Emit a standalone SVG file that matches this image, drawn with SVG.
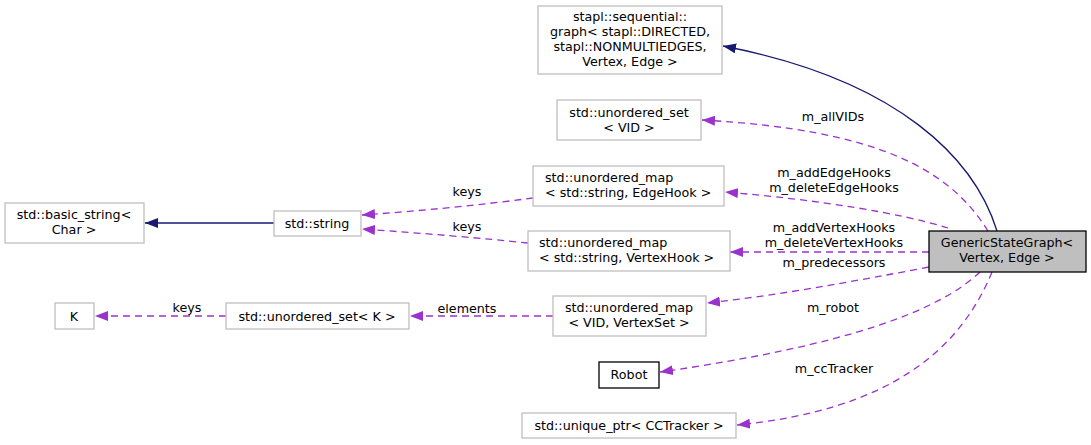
<svg xmlns="http://www.w3.org/2000/svg" width="1091" height="445" viewBox="0 0 1091 445">
<defs>
<style>
text{font-family:"DejaVu Sans",sans-serif;font-size:12.7px;fill:#000}
.n{fill:#fff;stroke:#bfbfbf;stroke-width:1.3}
.b{fill:#fff;stroke:#000;stroke-width:1.3}
.g{fill:#bfbfbf;stroke:#000;stroke-width:1.3}
.inh{fill:none;stroke:#191970;stroke-width:1.3}
.use{fill:none;stroke:#9a32cd;stroke-width:1.3;stroke-dasharray:7,5}
.c{text-anchor:middle}
</style>
<marker id="ab" viewBox="0 0 13 10" refX="13" refY="5" markerWidth="13" markerHeight="10" markerUnits="userSpaceOnUse" orient="auto"><path d="M0,0L13,5L0,10Z" fill="#191970"/></marker>
<marker id="ap" viewBox="0 0 13 10" refX="13" refY="5" markerWidth="13" markerHeight="10" markerUnits="userSpaceOnUse" orient="auto"><path d="M0,0L13,5L0,10Z" fill="#9a32cd"/></marker>
</defs>
<g id="connectors">
<path class="inh" d="M997,231 C975,160 900,80 723,46" marker-end="url(#ab)"/>
<path class="inh" d="M274,223 L145,223" marker-end="url(#ab)"/>
<path class="use" d="M988,231 C950,170 880,130 702,120" marker-end="url(#ap)"/>
<text class="c" x="833" y="121">m_allVIDs</text>
<path class="use" d="M948,228 C900,213 820,200 725,192" marker-end="url(#ap)"/>
<text class="c" x="834" y="177">m_addEdgeHooks</text>
<text class="c" x="834" y="192">m_deleteEdgeHooks</text>
<path class="use" d="M929,252 L730,252" marker-end="url(#ap)"/>
<text class="c" x="834" y="232">m_addVertexHooks</text>
<text class="c" x="834" y="247">m_deleteVertexHooks</text>
<path class="use" d="M929,267 C850,282 780,295 707,303" marker-end="url(#ap)"/>
<text class="c" x="834" y="267">m_predecessors</text>
<path class="use" d="M980,272 C940,310 850,345 660,372" marker-end="url(#ap)"/>
<text class="c" x="833" y="312">m_robot</text>
<path class="use" d="M992,272 C960,350 890,410 737,425" marker-end="url(#ap)"/>
<text class="c" x="834" y="373">m_ccTracker</text>
<path class="use" d="M533,198 C480,205 420,211 362,215" marker-end="url(#ap)"/>
<text class="c" x="467" y="196">keys</text>
<path class="use" d="M528,243 C480,238 420,233 362,229" marker-end="url(#ap)"/>
<text class="c" x="467" y="231">keys</text>
<path class="use" d="M553,316 L410,316" marker-end="url(#ap)"/>
<text class="c" x="467" y="313">elements</text>
<path class="use" d="M226,316 L95,316" marker-end="url(#ap)"/>
<text class="c" x="187" y="312">keys</text>
</g>
<g id="node_gsg">
<rect class="g" x="929" y="231" width="157" height="41"/>
<text class="c" x="1007" y="247">GenericStateGraph&lt;</text>
<text class="c" x="1007" y="262">Vertex, Edge &gt;</text>
</g>
<g id="node_stapl_graph">
<rect class="n" x="538" y="6" width="184" height="68"/>
<text class="c" x="630" y="21">stapl::sequential::</text>
<text class="c" x="630" y="36">graph&lt; stapl::DIRECTED,</text>
<text class="c" x="630" y="51">stapl::NONMULTIEDGES,</text>
<text class="c" x="630" y="66">Vertex, Edge &gt;</text>
</g>
<g id="node_uset_vid">
<rect class="n" x="557" y="100" width="144" height="40"/>
<text class="c" x="629" y="117">std::unordered_set</text>
<text class="c" x="629" y="132">&lt; VID &gt;</text>
</g>
<g id="node_umap_edgehook">
<rect class="n" x="533" y="166" width="191" height="40"/>
<text x="545" y="182">std::unordered_map</text>
<text x="545" y="197">&lt; std::string, EdgeHook &gt;</text>
</g>
<g id="node_umap_vertexhook">
<rect class="n" x="528" y="231" width="202" height="40"/>
<text x="539" y="247">std::unordered_map</text>
<text x="539" y="262">&lt; std::string, VertexHook &gt;</text>
</g>
<g id="node_string">
<rect class="n" x="274" y="211" width="87" height="25"/>
<text class="c" x="317" y="228">std::string</text>
</g>
<g id="node_basic_string">
<rect class="n" x="5" y="203" width="139" height="40"/>
<text class="c" x="74" y="219">std::basic_string&lt;</text>
<text class="c" x="74" y="234">Char &gt;</text>
</g>
<g id="node_umap_vid">
<rect class="n" x="553" y="296" width="153" height="40"/>
<text class="c" x="629" y="312">std::unordered_map</text>
<text class="c" x="629" y="327">&lt; VID, VertexSet &gt;</text>
</g>
<g id="node_uset_k">
<rect class="n" x="226" y="303" width="183" height="26"/>
<text class="c" x="317" y="321">std::unordered_set&lt; K &gt;</text>
</g>
<g id="node_k">
<rect class="n" x="55" y="303" width="39" height="26"/>
<text class="c" x="74" y="321">K</text>
</g>
<g id="node_robot">
<rect class="b" x="599" y="362" width="60" height="26"/>
<text class="c" x="629" y="379">Robot</text>
</g>
<g id="node_ccTracker">
<rect class="n" x="522" y="413" width="214" height="25"/>
<text class="c" x="629" y="430">std::unique_ptr&lt; CCTracker &gt;</text>
</g>
</svg>
